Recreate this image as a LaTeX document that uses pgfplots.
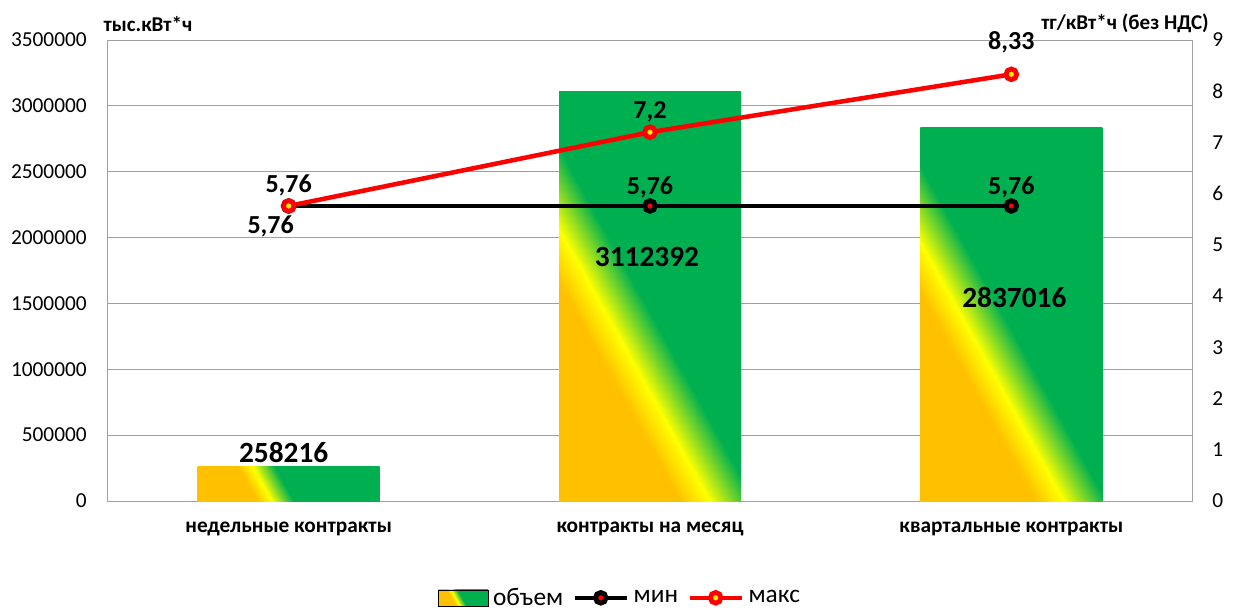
\documentclass[border=0pt]{standalone}
\usepackage{pgfplots}
\pgfplotsset{compat=1.18}
\usepackage{pgfplotstable}
\usepackage{fontspec}
\setmainfont{Carlito}

\definecolor{orng}{HTML}{FFC000}
\definecolor{ylw}{HTML}{FFFF00}
\definecolor{grn}{HTML}{00B050}
\definecolor{gridgray}{HTML}{A0A0A0}

% orange-yellow-green diagonal (25bp..75bp spans the filled shape)
\pgfdeclarehorizontalshading{excelgrad}{100bp}{color(0bp)=(orng); color(36bp)=(orng); color(41bp)=(ylw); color(48.5bp)=(grn); color(100bp)=(grn)}

\newcommand\tickfont{\fontsize{16pt}{19pt}\selectfont}
\newcommand\catfont{\fontsize{16pt}{19pt}\selectfont\bfseries}
\newcommand\titlefont{\fontsize{15.8pt}{19pt}\selectfont\bfseries}
\newcommand\linelbl{\fontsize{19.5pt}{23pt}\selectfont\bfseries}
\newcommand\barlbl{\fontsize{22pt}{26pt}\selectfont\bfseries}
\newcommand\legfont{\fontsize{19pt}{22pt}\selectfont}

\pgfplotstableread{
x y lbl dx dy
0 258216 258216 -3.75 11.25
1 3112392 3112392 -2.25 -124.5
2 2837016 2837016 2.25 -127.5
}\bars

\pgfplotstableread{
x y lbl dx dy
0 5.76 5,76 -13.5 -15
1 5.76 5,76 0 14.25
2 5.76 5,76 0 14.25
}\minline

\pgfplotstableread{
x y lbl dx dy
0 5.76 5,76 0 15.75
1 7.2 7,2 0 15
2 8.33 8,33 0 24
}\maxline

\begin{document}
\begin{tikzpicture}
\path[use as bounding box] (-81pt,-83.25pt) rectangle (845.25pt,375.75pt);

\begin{axis}[
  scale only axis, width=813pt, height=345.75pt,
  xmin=-0.5, xmax=2.5, ymin=0, ymax=3500000,
  clip=false,
  axis line style={draw=gridgray, line width=0.75pt},
  ymajorgrids, major grid style={draw=gridgray, line width=0.75pt},
  xtick={0,1,2},
  xticklabels={недельные контракты, контракты на месяц, квартальные контракты},
  xtick style={draw=none}, ytick style={draw=none},
  xticklabel style={font=\catfont, anchor=center, yshift=-21pt, inner sep=0pt},
  ytick={0,500000,1000000,1500000,2000000,2500000,3000000,3500000},
  yticklabels={0,500000,1000000,1500000,2000000,2500000,3000000,3500000},
  scaled y ticks=false,
  yticklabel style={font=\tickfont, anchor=east, xshift=-15.75pt, inner sep=0pt},
]
% one plot per bar so that each bar gets its own gradient
\addplot[ybar, bar width=136.5pt, bar shift=0pt, draw=none, shade, shading=excelgrad, shading angle=29]
  coordinates {(0,258216)};
\addplot[ybar, bar width=136.5pt, bar shift=0pt, draw=none, shade, shading=excelgrad, shading angle=29]
  coordinates {(1,3112392)};
\addplot[ybar, bar width=136.5pt, bar shift=0pt, draw=none, shade, shading=excelgrad, shading angle=29]
  coordinates {(2,2837016)};
% value labels
\addplot[draw=none, mark=none, nodes near coords, point meta=explicit symbolic,
  visualization depends on={\thisrow{dx} \as \dx},
  visualization depends on={\thisrow{dy} \as \dy},
  every node near coord/.append style={font=\barlbl, text=black, anchor=center, xshift=\dx pt, yshift=\dy pt}]
  table[x=x, y=y, meta=lbl] {\bars};
\end{axis}

\begin{axis}[
  scale only axis, width=813pt, height=345.75pt,
  xmin=-0.5, xmax=2.5, ymin=0, ymax=9,
  clip=false,
  axis y line*=right, axis x line=none,
  axis line style={draw=none},
  ytick={0,1,2,3,4,5,6,7,8,9}, ytick style={draw=none},
  /pgf/number format/assume math mode=true,
  yticklabel style={font=\tickfont, anchor=west, xshift=15pt, inner sep=0pt},
  legend style={at={(0.4714,-0.21)}, anchor=center, draw=none, fill=none,
    legend columns=-1, font=\legfont, nodes={inner sep=0pt},
    /tikz/every odd column/.append style={column sep=3.5pt},
    /tikz/every even column/.append style={column sep=7pt}},
  legend image code/.code={\draw[mark repeat=2, mark phase=2]
    plot coordinates {(0pt,0pt) (19.5pt,0pt) (39pt,0pt)};},
  nodes near coords, point meta=explicit symbolic,
  visualization depends on={\thisrow{dx} \as \dx},
  visualization depends on={\thisrow{dy} \as \dy},
  every node near coord/.append style={font=\linelbl, text=black, anchor=center, xshift=\dx pt, yshift=\dy pt},
]
\addlegendimage{legend image code/.code={\shade[shading=excelgrad, shading angle=29] (0pt,-6pt) rectangle (37.5pt,6pt);}}
\addlegendentry{объем}

\addplot[black, line width=3.4pt, mark=*, mark size=4pt,
  mark options={fill=red, draw=black, line width=3.6pt}]
  table[x=x, y=y, meta=lbl] {\minline};
\addlegendentry{мин}

\addplot[red, line width=3.4pt, mark=*, mark size=4pt,
  mark options={fill=yellow, draw=red, line width=3.6pt}]
  table[x=x, y=y, meta=lbl] {\maxline};
\addlegendentry{макс}
\end{axis}

\node[font=\titlefont] at (30pt,358pt) {тыс.кВт*ч};
\node[font=\titlefont] at (762.75pt,358pt) {тг/кВт*ч (без НДС)};
\end{tikzpicture}
\end{document}
